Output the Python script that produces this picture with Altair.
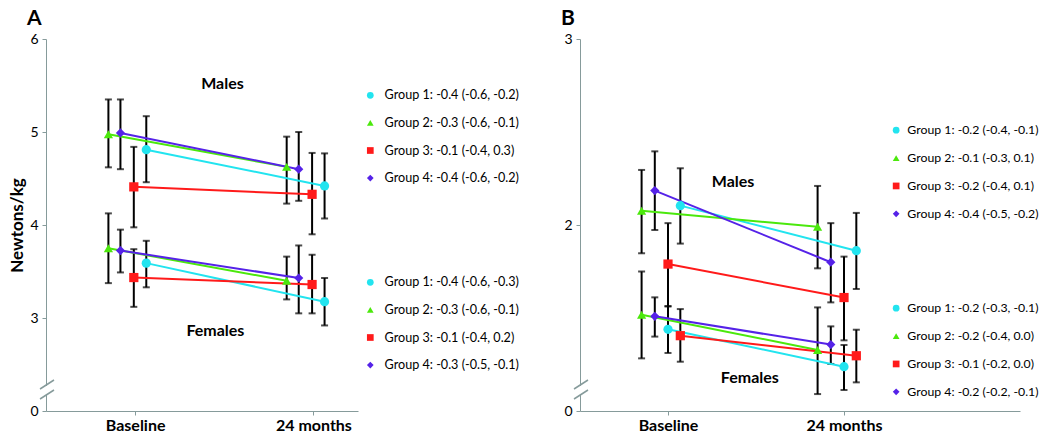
import altair as alt
import pandas as pd

# ---------------- data ----------------
groups = ["Group 1", "Group 2", "Group 3", "Group 4"]
timepoints = ["Baseline", "24 months"]
time_values = [1, 3]

# Panel A (Newtons/kg)  order: Group 1..4
A_male_base_mean = [4.81, 4.975, 4.41, 4.99]
A_male_base_lo = [4.46, 4.62, 3.975, 4.60]
A_male_base_hi = [5.17, 5.35, 4.84, 5.35]
A_male_24_mean = [4.42, 4.625, 4.33, 4.60]
A_male_24_lo = [4.07, 4.23, 3.90, 4.26]
A_male_24_hi = [4.77, 4.95, 4.775, 5.00]
A_fem_base_mean = [3.59, 3.75, 3.435, 3.725]
A_fem_base_lo = [3.33, 3.375, 3.12, 3.49]
A_fem_base_hi = [3.83, 4.125, 3.74, 3.95]
A_fem_24_mean = [3.175, 3.40, 3.36, 3.43]
A_fem_24_lo = [2.92, 3.20, 3.05, 3.05]
A_fem_24_hi = [3.43, 3.66, 3.68, 3.78]

# Panel B
B_male_base_mean = [2.104, 2.077, 1.79, 2.185]
B_male_base_lo = [1.90, 1.848, 1.563, 1.973]
B_male_base_hi = [2.305, 2.296, 2.01, 2.396]
B_male_24_mean = [1.862, 1.99, 1.61, 1.80]
B_male_24_lo = [1.656, 1.767, 1.38, 1.584]
B_male_24_hi = [2.065, 2.21, 1.83, 2.01]
B_fem_base_mean = [1.439, 1.518, 1.405, 1.509]
B_fem_base_lo = [1.312, 1.283, 1.265, 1.40]
B_fem_base_hi = [1.563, 1.75, 1.548, 1.611]
B_fem_24_mean = [1.238, 1.328, 1.297, 1.357]
B_fem_24_lo = [1.113, 1.091, 1.154, 1.253]
B_fem_24_hi = [1.355, 1.557, 1.437, 1.455]

A_male_labels = ["Group 1: -0.4 (-0.6, -0.2)", "Group 2: -0.3 (-0.6, -0.1)",
                 "Group 3: -0.1 (-0.4, 0.3)", "Group 4: -0.4 (-0.6, -0.2)"]
A_fem_labels = ["Group 1: -0.4 (-0.6, -0.3)", "Group 2: -0.3 (-0.6, -0.1)",
                "Group 3: -0.1 (-0.4, 0.2)", "Group 4: -0.3 (-0.5, -0.1)"]
B_male_labels = ["Group 1: -0.2 (-0.4, -0.1)", "Group 2: -0.1 (-0.3, 0.1)",
                 "Group 3: -0.2 (-0.4, 0.1)", "Group 4: -0.4 (-0.5, -0.2)"]
B_fem_labels = ["Group 1: -0.2 (-0.3, -0.1)", "Group 2: -0.2 (-0.4, 0.0)",
                "Group 3: -0.1 (-0.2, 0.0)", "Group 4: -0.2 (-0.2, -0.1)"]

# ---------------- style ----------------
colors = ["#22e4ef", "#4be80c", "#ff1a1a", "#5522e8"]
shapes = ["circle", "triangle-up", "square", "diamond"]
AXIS_GRAY = "#869b9b"
FONT = "Lato"
H = 372

# dodge offsets of each group around its time point
A_offsets = {"Males": [0.125, -0.30, -0.015, -0.165],
             "Females": [0.125, -0.30, -0.015, -0.165]}
B_offsets = {"Males": [0.14, -0.30, 0.0, -0.15],
             "Females": [0.0, -0.30, 0.14, -0.15]}


def build_df(sets, offsets, labels):
    rows = []
    for sex, (bm, bl, bh, fm, fl, fh) in sets.items():
        for gi, g in enumerate(groups):
            for ti, (m, lo, hi) in enumerate([(bm, bl, bh), (fm, fl, fh)]):
                rows.append(dict(sex=sex, group=g, series=sex + g,
                                 x=time_values[ti] + offsets[sex][gi],
                                 mean=m[gi], lo=lo[gi], hi=hi[gi],
                                 color=colors[gi], label=labels[sex][gi]))
    return pd.DataFrame(rows)


dfA = build_df({"Males": (A_male_base_mean, A_male_base_lo, A_male_base_hi,
                          A_male_24_mean, A_male_24_lo, A_male_24_hi),
                "Females": (A_fem_base_mean, A_fem_base_lo, A_fem_base_hi,
                            A_fem_24_mean, A_fem_24_lo, A_fem_24_hi)},
               A_offsets, {"Males": A_male_labels, "Females": A_fem_labels})
dfB = build_df({"Males": (B_male_base_mean, B_male_base_lo, B_male_base_hi,
                          B_male_24_mean, B_male_24_lo, B_male_24_hi),
                "Females": (B_fem_base_mean, B_fem_base_lo, B_fem_base_hi,
                            B_fem_24_mean, B_fem_24_lo, B_fem_24_hi)},
               B_offsets, {"Males": B_male_labels, "Females": B_fem_labels})


def panel(df, letter, width, xdom, ydom, yvals, ytitle, leg, ann, m_labels, f_labels):
    leg_x, leg_y_m, leg_y_f, leg_fs, leg_off, leg_pad = leg
    xs = alt.Scale(domain=xdom, nice=False, zero=False)
    ys = alt.Scale(domain=ydom, nice=False, zero=False)
    low = ydom[0]
    xaxis = alt.Axis(values=time_values, title=None, grid=False,
                     labelExpr="datum.value == 1 ? 'Baseline' : '24 months'",
                     labelFontWeight="bold", labelFontSize=16, labelFont=FONT,
                     tickSize=4, labelPadding=2, domainColor=AXIS_GRAY,
                     tickColor=AXIS_GRAY, labelColor="black")
    yaxis = alt.Axis(values=yvals, title=ytitle, grid=False,
                     labelExpr=f"datum.value == {low} ? '0' : format(datum.value, 'd')",
                     labelFontSize=14, labelFont=FONT, tickSize=4, labelPadding=4,
                     titleFont=FONT, titleFontSize=17, titleFontWeight="bold",
                     titlePadding=3, domainColor=AXIS_GRAY, tickColor=AXIS_GRAY,
                     labelColor="black", titleColor="black")
    X = alt.X("x:Q", scale=xs, axis=xaxis)
    base = alt.Chart(df)
    err = base.mark_rule(color="black", strokeWidth=2).encode(
        x=X, y=alt.Y("lo:Q", scale=ys, axis=yaxis), y2="hi:Q")
    cap_lo = base.mark_tick(color="black", thickness=2, size=7, orient="horizontal").encode(
        x="x:Q", y="lo:Q")
    cap_hi = base.mark_tick(color="black", thickness=2, size=7, orient="horizontal").encode(
        x="x:Q", y="hi:Q")
    lines = base.mark_line(strokeWidth=2).encode(
        x="x:Q", y="mean:Q", detail="series:N",
        color=alt.Color("color:N", scale=None))

    def pts(sex, labels, ly):
        lg = alt.Legend(orient="none", legendX=leg_x, legendY=ly, title=None,
                        labelFont=FONT, labelFontSize=leg_fs, symbolSize=45,
                        symbolStrokeWidth=0, rowPadding=leg_pad, labelOffset=leg_off,
                        padding=0, labelLimit=400, labelColor="black")
        return alt.Chart(df[df.sex == sex]).mark_point(filled=True, opacity=1, size=85).encode(
            x="x:Q", y="mean:Q",
            color=alt.Color("label:N", scale=alt.Scale(domain=labels, range=colors), legend=lg),
            shape=alt.Shape("label:N", scale=alt.Scale(domain=labels, range=shapes), legend=lg))

    ann_df = pd.DataFrame({"x": [a[0] for a in ann], "y": [a[1] for a in ann],
                           "t": ["Males", "Females"]})
    text = alt.Chart(ann_df).mark_text(font=FONT, fontSize=16, fontWeight="bold",
                                       color="black").encode(x="x:Q", y="y:Q", text="t:N")
    one = alt.Chart(pd.DataFrame({"k": [0]}))
    gap = one.mark_rule(color="white", strokeWidth=4).encode(
        x=alt.value(0), y=alt.value(H - 25), y2=alt.value(H - 17))
    s1 = one.mark_rule(color=AXIS_GRAY, strokeWidth=1.5).encode(
        x=alt.value(-6), x2=alt.value(8), y=alt.value(H - 22), y2=alt.value(H - 31))
    s2 = one.mark_rule(color=AXIS_GRAY, strokeWidth=1.5).encode(
        x=alt.value(-6), x2=alt.value(8), y=alt.value(H - 12), y2=alt.value(H - 21))
    return alt.layer(err, cap_lo, cap_hi, lines, pts("Males", m_labels, leg_y_m),
                     pts("Females", f_labels, leg_y_f), text, gap, s1, s2).resolve_scale(
        color="independent", shape="independent").properties(
        width=width, height=H,
        title=alt.TitleParams(letter, anchor="start", frame="group", dx=-19,
                              fontSize=21, fontWeight="bold", font=FONT, offset=3,
                              color="black"))


pA = panel(dfA, "A", 312, [0, 3.5], [2, 6], [2, 3, 4, 5, 6], "Newtons/kg",
           (318, 50, 237, 12.6, 8, 14.6),
           [(1.98, 5.52), (1.90, 2.86)], A_male_labels, A_fem_labels)
pB = panel(dfB, "B", 440, [0, 5], [1, 3], [1, 2, 3], None,
           (310, 85, 263, 12.3, 5, 14.9),
           [(1.74, 2.23), (1.93, 1.18)], B_male_labels, B_fem_labels)

chart = alt.hconcat(pA, pB, spacing=42).properties(padding=0).configure_view(stroke=None)
chart.save("out.html", embed_options={"renderer": "svg", "actions": False})
